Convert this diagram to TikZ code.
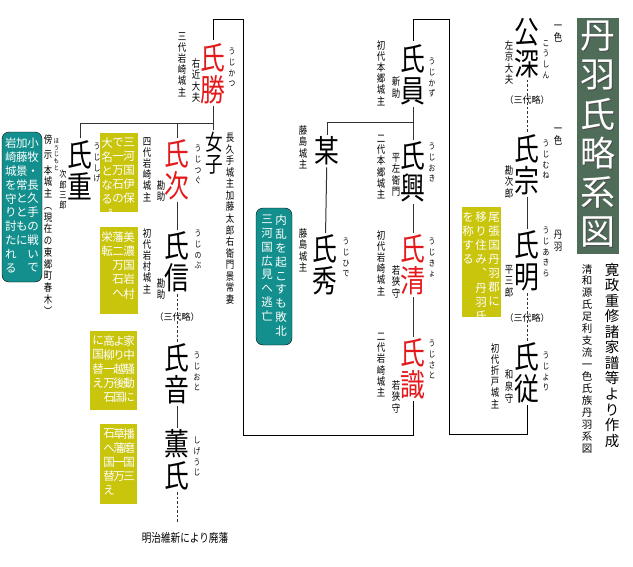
\documentclass[tikz,border=0pt]{standalone}
\usepackage{fontspec}
\newfontfamily\jp{Noto Sans CJK JP}
\newfontfamily\jpn[FakeStretch=0.8]{Noto Sans CJK JP}
\usetikzlibrary{calc}
\definecolor{aka}{HTML}{E3191B}
\definecolor{kin}{HTML}{C9C40C}
\definecolor{ao}{HTML}{13908D}
\definecolor{midori}{HTML}{4E6C58}
\ExplSyntaxOn
\NewDocumentCommand\tate{O{1.1}m}{\vbox{\baselineskip=#1em\lineskiplimit=-\maxdimen\lineskip=0pt\tl_map_inline:nn{#2}{\hbox to 1em{\hss##1\hss}}}}
\ExplSyntaxOff
\tikzset{
	mei/.style={font=\jpn\fontsize{31}{31}\selectfont, inner sep=0pt, outer sep=2pt},
	akamei/.style={mei, text=aka},
	yomi/.style={font=\jpn\fontsize{8.5}{8.5}\selectfont, inner sep=0pt, anchor=north},
	chu/.style={font=\jpn\fontsize{10.5}{10.5}\selectfont, inner sep=0pt, anchor=north},
	shiro/.style={font=\jp\fontsize{11.5}{11.5}\selectfont, text=white, inner sep=0pt, anchor=north},
	kinbox/.style={fill=kin},
	aobox/.style={fill=ao, rounded corners=7pt},
	keizu/.style={line width=1pt, draw=black!80},
	ryaku/.style={keizu, dash pattern=on 2.5pt off 2pt},
	waku/.style={line width=0.8pt, draw=black},
}

\begin{document}
\begin{tikzpicture}[x=1pt,y=-1pt]
			%%%%% START %%%%%
			\useasboundingbox (0,0) rectangle (633,566);
			
			% title
			\fill[midori] (577,18) rectangle (619,254);
			\node[font=\jp\fontsize{35}{35}\selectfont, text=black!70, inner sep=0pt, anchor=north] at (599,22) {\tate[1.12]{丹羽氏略系図}};
			\node[font=\jp\fontsize{35}{35}\selectfont, text=white, inner sep=0pt, anchor=north] (title) at (598,21) {\tate[1.12]{丹羽氏略系図}};
			\node[font=\jp\fontsize{14.5}{14.5}\selectfont, inner sep=0pt, anchor=north] (sakusei) at (612,263) {\tate[1.07]{寛政重修諸家譜等より作成}};
			\node[font=\jp\fontsize{10.5}{10.5}\selectfont, inner sep=0pt, anchor=north] (keito) at (587,264) {\tate[1.14]{清和源氏足利支流一色氏族丹羽系図}};
			
			% isshiki line
			\node[mei] (kofuka) at (527,48) {\tate[1.03]{公深}};
			\node[mei] (ujimune) at (527,165) {\tate[1.03]{氏宗}};
			\node[mei] (ujiakira) at (527,261) {\tate[1.03]{氏明}};
			\node[mei] (ujiyori) at (527,373) {\tate[1.03]{氏従}};
			
			\node[chu] at (558,25) {\tate{一色}};
			\node[yomi] at (546,40) {\tate[1.25]{こうしん}};
			\node[chu] at (509,40) {\tate{左京大夫}};
			\node[chu] at (558,128) {\tate{一色}};
			\node[yomi] at (546,140) {\tate[1.25]{うじむね}};
			\node[chu] at (509,165) {\tate{勘次郎}};
			\node[chu] at (558,230) {\tate{丹羽}};
			\node[yomi] at (546,227) {\tate[1.25]{うじあきら}};
			\node[chu] at (509,265) {\tate{平三郎}};
			\node[yomi] at (546,352) {\tate[1.25]{うじより}};
			\node[chu] at (509,370) {\tate{和泉守}};
			\node[chu] at (495,343) {\tate[1.07]{初代折戸城主}};
			
			\draw[ryaku] (kofuka) -- (ujimune);
			\node[font=\jp\fontsize{9}{9}\selectfont, inner sep=0pt] (ryaku1) at (527,100) {（三代略）};
			\draw[keizu] (ujimune) -- (ujiakira);
			\draw[ryaku] (ujiakira) -- (ujiyori);
			\node[font=\jp\fontsize{9}{9}\selectfont, inner sep=0pt] (ryaku2) at (527,318) {（三代略）};
			
			\fill[kin] (462,207) rectangle (501,317);
			\node[shiro] at (494,212) {\tate[1.22]{尾張国丹羽郡に}};
			\node[shiro] at (481,212) {\tate[1.22]{移り住み︑丹羽氏}};
			\node[shiro] at (468,212) {\tate[1.22]{を称する}};
			
			\coordinate (r1) at (527,434);
			\coordinate (r2) at (449,434);
			\coordinate (r3) at (449,19);
			\coordinate (r4) at (413,19);
			\draw[waku] (ujiyori.south) -- (r1) -- (r2) -- (r3) -- (r4) -- (413,41);
			
			% niwa honbo line
			\node[mei] (ujikazu) at (413,75) {\tate[1.03]{氏員}};
			\node[mei] (bou) at (327,151) {某};
			\node[mei] (ujioki) at (413,172) {\tate[1.03]{氏興}};
			\node[mei] (ujihide) at (325,265) {\tate[1.03]{氏秀}};
			\node[akamei] (ujikiyo) at (413,265) {\tate[1.03]{氏清}};
			\node[akamei] (ujisato) at (413,369) {\tate[1.03]{氏識}};
			
			\node[yomi] at (432,58) {\tate[1.25]{うじかず}};
			\node[chu] at (396,77) {\tate{新助}};
			\node[chu] at (381,40) {\tate[1.07]{初代本郷城主}};
			\node[chu] at (303,125) {\tate{藤島城主}};
			\node[yomi] at (432,143) {\tate[1.25]{うじおき}};
			\node[chu] at (396,153) {\tate{平左衛門}};
			\node[chu] at (381,135) {\tate[1.07]{二代本郷城主}};
			\node[yomi] at (346,238) {\tate[1.25]{うじひで}};
			\node[chu] at (303,228) {\tate{藤島城主}};
			\node[yomi] at (432,238) {\tate[1.25]{うじきょ}};
			\node[chu] at (396,265) {\tate{若狭守}};
			\node[chu] at (381,230) {\tate[1.07]{初代岩崎城主}};
			\node[yomi] at (432,340) {\tate[1.25]{うじさと}};
			\node[chu] at (396,380) {\tate{若狭守}};
			\node[chu] at (381,333) {\tate[1.07]{二代岩崎城主}};
			
			\coordinate (kazuj) at (413,122);
			\draw[keizu] (ujikazu) -- (ujioki);
			\draw[keizu] (kazuj) -| (bou.north);
			\draw[keizu] (bou) -- (ujihide);
			\draw[keizu] (ujioki) -- (ujikiyo);
			\draw[keizu] (ujikiyo) -- (ujisato);
			
			\draw[aobox] (256,208) rectangle (292,345);
			\node[shiro] at (281,215) {\tate[1.2]{内乱を起こすも敗北}};
			\node[shiro] at (267,215) {\tate[1.2]{三河国広見へ逃亡}};
			
			\coordinate (l1) at (413,435);
			\coordinate (l2) at (243,435);
			\coordinate (l3) at (243,19);
			\coordinate (l4) at (213,19);
			\draw[waku] (ujisato.south) -- (l1) -- (l2) -- (l3) -- (l4) -- (213,40);
			
			% iwasaki line
			\node[akamei] (ujikatsu) at (213,74) {\tate[1.03]{氏勝}};
			\node[mei, font=\jpn\fontsize{22}{22}\selectfont] (joshi) at (214,153) {\tate[1.0]{女子}};
			\node[mei] (ujishige) at (80,170) {\tate[1.03]{氏重}};
			\node[akamei] (ujitsugu) at (177,170) {\tate[1.03]{氏次}};
			\node[mei] (ujinobu) at (177,262) {\tate[1.03]{氏信}};
			\node[mei] (ujioto) at (177,374) {\tate[1.03]{氏音}};
			\node[mei] (shigeuji) at (177,460) {\tate[1.03]{薫氏}};
			
			\node[yomi] at (232,48) {\tate[1.25]{うじかつ}};
			\node[chu] at (196,58) {\tate{右近大夫}};
			\node[chu] at (182,32) {\tate[1.07]{三代岩崎城主}};
			\node[chu] at (230,133) {\tate[1.1]{長久手城主加藤太郎右衛門景常妻}};
			\node[yomi] at (97,143) {\tate[1.25]{うじしげ}};
			\node[chu, font=\jpn\fontsize{9}{9}\selectfont] at (63,170) {\tate[1.15]{次郎三郎}};
			\node[font=\jpn\fontsize{6.5}{6.5}\selectfont, inner sep=0pt, anchor=north] at (56.5,138) {\tate[1.05]{ほうじもと}};
			\node[chu] at (48,135) {傍};
			\node[chu] at (48,150) {示};
			\node[chu] at (48,165) {\tate[1.12]{本城主︵現在の東郷町春木︶}};
			\node[yomi] at (198,145) {\tate[1.25]{うじつぐ}};
			\node[chu] at (161,180) {\tate{勘助}};
			\node[chu] at (147,137) {\tate[1.07]{四代岩崎城主}};
			\node[yomi] at (198,230) {\tate[1.25]{うじのぶ}};
			\node[chu] at (161,278) {\tate{勘助}};
			\node[chu] at (147,228) {\tate[1.07]{初代岩村城主}};
			\node[yomi] at (197,352) {\tate[1.25]{うじおと}};
			\node[yomi] at (197,437) {\tate[1.25]{しげうじ}};
			
			\coordinate (katsuj) at (213,123);
			\draw[keizu] (ujikatsu) -- (ujikatsu |- joshi.north);
			\draw[keizu] (ujishige.north) |- (katsuj);
			\draw[keizu] (ujitsugu.north) -- (ujitsugu.north |- katsuj);
			\draw[keizu] (ujitsugu) -- (ujinobu);
			\draw[ryaku] (ujinobu) -- (ujioto);
			\node[font=\jp\fontsize{9}{9}\selectfont, inner sep=0pt] (ryaku3) at (177,317) {（三代略）};
			\draw[keizu] (ujioto) -- (shigeuji);
			\coordinate (haihan) at (177,522);
			\draw[ryaku] (shigeuji.south) -- (haihan);
			\node[font=\jpn\fontsize{12}{12}\selectfont, inner sep=0pt] (meiji) at (185,538) {明治維新により廃藩};
			
			\draw[aobox] (2,132) rectangle (42,282);
			\node[shiro] at (33,138) {\tate[1.2]{小牧・長久手の戦いで}};
			\node[shiro] at (22,138) {\tate[1.2]{加藤景常とともに}};
			\node[shiro] at (11,138) {\tate[1.2]{岩崎城を守り討たれる}};
			
			\fill[kin] (100,133) rectangle (138,212);
			\node[shiro] at (129,138) {\tate[1.22]{三河国伊保}};
			\node[shiro] at (118,138) {\tate[1.22]{で一万石の}};
			\node[shiro] at (107,138) {\tate[1.22]{大名となる︒}};
			
			\fill[kin] (100,227) rectangle (138,314);
			\node[shiro] at (129,232) {\tate[1.22]{美濃国岩村}};
			\node[shiro] at (118,232) {\tate[1.22]{藩二万石へ}};
			\node[shiro] at (107,232) {\tate[1.22]{栄転}};
			
			\fill[kin] (90,331) rectangle (137,410);
			\node[shiro] at (129,336) {\tate[1.22]{家中騒動に}};
			\node[shiro] at (119,336) {\tate[1.22]{より越後国}};
			\node[shiro] at (109,336) {\tate[1.22]{高柳一万石}};
			\node[shiro] at (98,336) {\tate[1.22]{に国替え}};
			
			\fill[kin] (100,424) rectangle (137,504);
			\node[shiro] at (129,429) {\tate[1.22]{播磨国三}};
			\node[shiro] at (119,429) {\tate[1.22]{草藩一万}};
			\node[shiro] at (109,429) {\tate[1.22]{石へ国替え}};
			%%%%% END %%%%%
\end{tikzpicture}
\end{document}
